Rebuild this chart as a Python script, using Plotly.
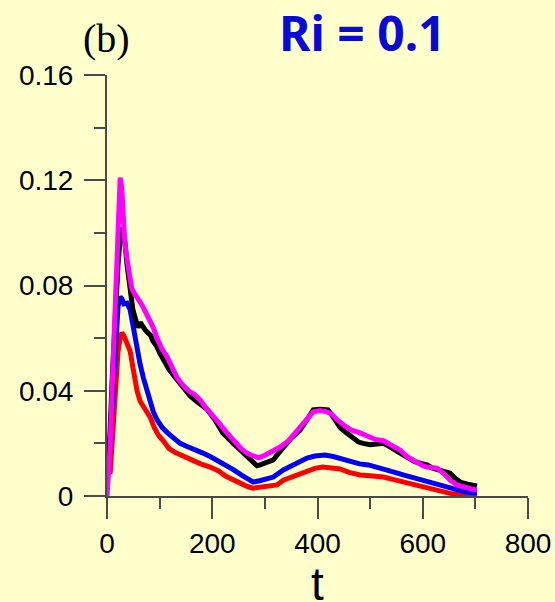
import plotly.graph_objects as go

# ---- data ----
t_magenta = [0, 6, 11, 17, 22, 25, 28, 31, 34, 38, 43, 47, 52, 57, 62, 68, 75, 82, 88, 95, 104, 114, 124, 133, 145, 155, 167, 177, 190, 200, 212, 228, 240, 255, 268, 278, 288, 300, 315, 329, 345, 358, 367, 380, 392, 405, 418, 428, 437, 450, 465, 481, 495, 510, 525, 540, 557, 570, 585, 600, 608, 618, 627, 640, 652, 665, 680, 692, 703]
v_magenta = [0, 0.019, 0.048, 0.080, 0.112, 0.121, 0.117, 0.104, 0.096, 0.090, 0.082, 0.079, 0.077, 0.0757, 0.074, 0.072, 0.069, 0.067, 0.064, 0.060, 0.056, 0.053, 0.049, 0.045, 0.042, 0.040, 0.0385, 0.0365, 0.033, 0.031, 0.028, 0.024, 0.021, 0.018, 0.016, 0.0150, 0.0145, 0.0155, 0.0170, 0.0186, 0.021, 0.024, 0.026, 0.029, 0.032, 0.0325, 0.032, 0.031, 0.029, 0.027, 0.025, 0.024, 0.023, 0.0215, 0.021, 0.0195, 0.0175, 0.015, 0.013, 0.0115, 0.011, 0.0108, 0.0106, 0.0085, 0.006, 0.0042, 0.0032, 0.0027, 0.0023]

t_black = [0, 4, 10, 16, 21, 25, 27, 30, 34, 38, 44, 49, 53, 59, 63, 68, 73, 78, 83, 87, 94, 101, 107, 118, 130, 145, 158, 170, 180, 190, 205, 220, 240, 255, 268, 278, 285, 291, 300, 310, 316, 325, 335, 350, 367, 380, 392, 405, 420, 430, 443, 455, 468, 478, 487, 500, 513, 525, 535, 545, 557, 570, 585, 600, 608, 620, 635, 652, 660, 671, 685, 695, 703]
v_black = [0.012, 0.016, 0.045, 0.072, 0.088, 0.098, 0.102, 0.099, 0.0965, 0.088, 0.077, 0.071, 0.068, 0.064, 0.066, 0.064, 0.063, 0.062, 0.061, 0.059, 0.057, 0.054, 0.052, 0.048, 0.045, 0.041, 0.038, 0.036, 0.0345, 0.033, 0.029, 0.024, 0.020, 0.017, 0.0145, 0.013, 0.0115, 0.0118, 0.0125, 0.013, 0.0137, 0.016, 0.0186, 0.022, 0.025, 0.029, 0.0327, 0.033, 0.0327, 0.030, 0.026, 0.024, 0.022, 0.0205, 0.020, 0.0195, 0.0198, 0.020, 0.019, 0.0175, 0.0163, 0.0148, 0.013, 0.0122, 0.0118, 0.0105, 0.0095, 0.0087, 0.007, 0.0053, 0.0045, 0.0040, 0.0038]

t_blue = [0, 3, 7, 12, 17, 21, 25, 28, 32, 38, 44, 48, 53, 58, 63, 69, 75, 82, 88, 95, 105, 115, 127, 139, 150, 165, 180, 196, 210, 225, 240, 255, 268, 278, 290, 303, 316, 335, 350, 367, 380, 395, 414, 430, 447, 462, 480, 497, 513, 530, 547, 563, 580, 597, 614, 632, 650, 665, 680, 692, 703]
v_blue = [0.013, 0.012, 0.025, 0.045, 0.062, 0.072, 0.0757, 0.075, 0.073, 0.0733, 0.0707, 0.066, 0.060, 0.055, 0.050, 0.045, 0.041, 0.036, 0.032, 0.029, 0.026, 0.024, 0.022, 0.020, 0.019, 0.018, 0.0165, 0.015, 0.0135, 0.012, 0.010, 0.008, 0.0065, 0.0053, 0.0058, 0.0065, 0.0072, 0.0099, 0.0115, 0.0128, 0.0144, 0.0152, 0.0156, 0.0150, 0.0140, 0.0130, 0.0122, 0.0118, 0.011, 0.0102, 0.009, 0.008, 0.007, 0.0062, 0.0053, 0.0042, 0.0030, 0.0023, 0.0016, 0.0013, 0.0011]

t_red = [0, 3, 6, 9, 13, 17, 21, 25, 28, 32, 36, 40, 44, 50, 57, 63, 70, 76, 82, 90, 98, 107, 118, 130, 145, 160, 178, 196, 212, 226, 240, 255, 268, 278, 290, 305, 323, 335, 350, 367, 380, 395, 410, 425, 443, 460, 481, 500, 525, 545, 570, 590, 614, 632, 652, 670, 685, 703]
v_red = [0.010, 0.0087, 0.0085, 0.018, 0.033, 0.045, 0.055, 0.060, 0.062, 0.061, 0.059, 0.057, 0.055, 0.048, 0.040, 0.036, 0.034, 0.032, 0.030, 0.026, 0.023, 0.021, 0.018, 0.0165, 0.015, 0.0135, 0.0122, 0.011, 0.0095, 0.0075, 0.006, 0.0045, 0.0035, 0.003, 0.0032, 0.0037, 0.0042, 0.006, 0.0072, 0.0087, 0.0095, 0.0105, 0.011, 0.0108, 0.0103, 0.009, 0.008, 0.0077, 0.0072, 0.0062, 0.005, 0.0041, 0.003, 0.002, 0.001, 0.0007, 0.0005, 0.0004]

x_ticks = [0, 200, 400, 600, 800]
x_tick_labels = ["0", "200", "400", "600", "800"]
x_minor_ticks = [100, 300, 500, 700]
y_ticks = [0, 0.04, 0.08, 0.12, 0.16]
y_tick_labels = ["0", "0.04", "0.08", "0.12", "0.16"]
y_minor_ticks = [0.02, 0.06, 0.10, 0.14]

BG = "#ffffcc"
AX = "#4a4a4a"

fig = go.Figure()
for tt, vv, col in [(t_red, v_red, "#ff0000"), (t_blue, v_blue, "#0000ff"),
                    (t_black, v_black, "#000000"), (t_magenta, v_magenta, "#ff00ff")]:
    fig.add_trace(go.Scatter(x=tt, y=vv, mode="lines",
                             line=dict(color=col, width=5), showlegend=False))

tickfont = dict(family="Liberation Sans, Arial, sans-serif", size=28, color="#000000")

fig.update_layout(
    width=555, height=602,
    margin=dict(l=107, r=27, t=75, b=106, autoexpand=False),
    paper_bgcolor=BG, plot_bgcolor=BG,
    showlegend=False,
    xaxis=dict(range=[0, 800], tickvals=x_ticks, ticktext=x_tick_labels,
               ticks="outside", ticklen=21, tickwidth=2, tickcolor=AX,
               showline=True, linecolor=AX, linewidth=2, showgrid=False, zeroline=False,
               tickfont=tickfont, automargin=False,
               minor=dict(tickvals=x_minor_ticks, ticks="outside", ticklen=11,
                          tickwidth=2, tickcolor=AX, showgrid=False)),
    yaxis=dict(range=[0, 0.16], tickvals=y_ticks, ticktext=y_tick_labels,
               ticks="outside", ticklen=21, tickwidth=2, tickcolor=AX,
               showline=True, linecolor=AX, linewidth=2, showgrid=False, zeroline=False,
               tickfont=tickfont, automargin=False, ticklabelstandoff=5,
               minor=dict(tickvals=y_minor_ticks, ticks="outside", ticklen=11,
                          tickwidth=2, tickcolor=AX, showgrid=False)),
    annotations=[
        dict(text="t", xref="paper", yref="paper", x=0.5, y=-0.142,
             xanchor="center", yanchor="top", showarrow=False,
             font=dict(family="Liberation Sans, Arial, sans-serif", size=46, color="#000000")),
        dict(text="(b)", xref="paper", yref="paper", x=-0.001, y=1.086,
             xanchor="center", yanchor="middle", showarrow=False,
             font=dict(family="Liberation Serif, Times New Roman, serif", size=40, color="#000000")),
        dict(text="<b>Ri = 0.1</b>", xref="paper", yref="paper", x=0.607, y=1.102,
             xanchor="center", yanchor="middle", showarrow=False,
             font=dict(family="Noto Sans, sans-serif", size=48, color="#0a0ad6")),
    ],
)

fig.write_html("out.html",
               config={"displayModeBar": False},
               post_script="document.body.style.margin='0';"
                           "document.body.style.background='" + BG + "';"
                           "document.documentElement.style.overflow='hidden';")
